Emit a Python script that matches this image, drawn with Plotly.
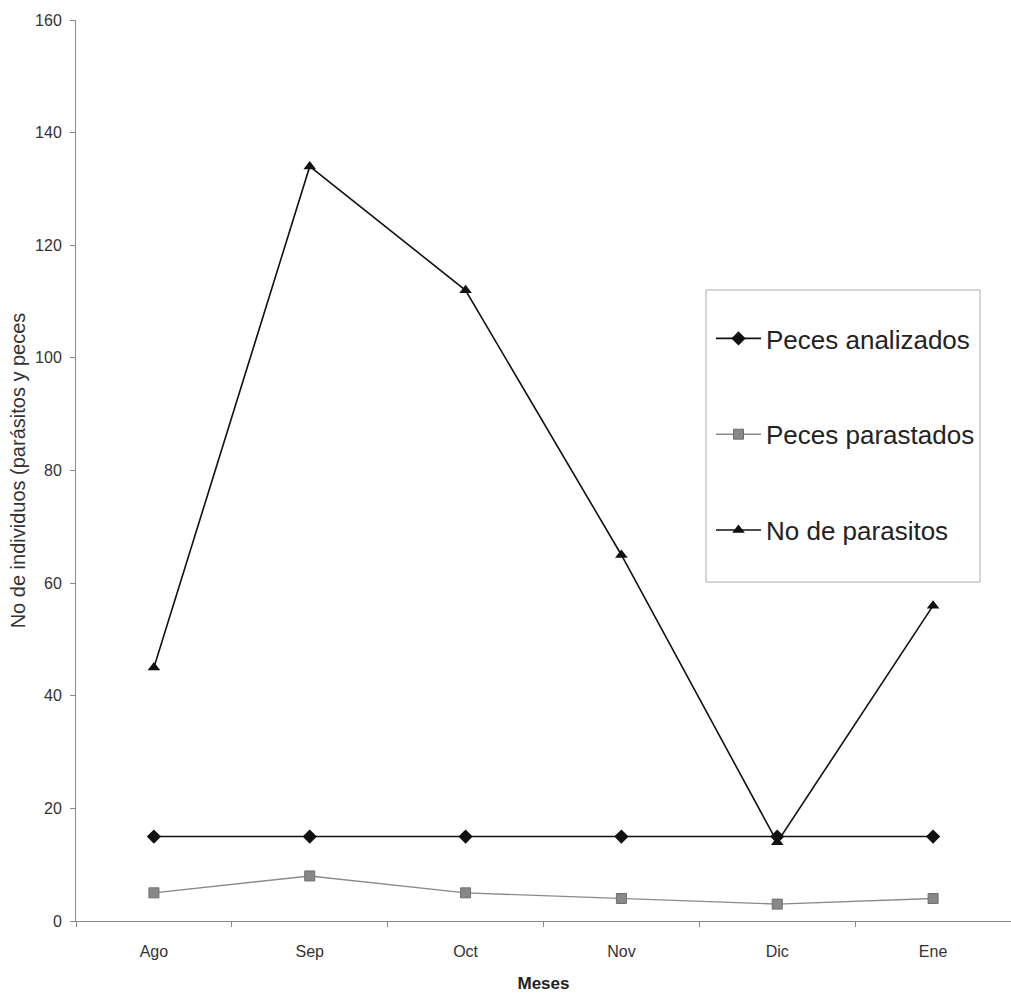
import plotly.graph_objects as go

meses = ["Ago", "Sep", "Oct", "Nov", "Dic", "Ene"]
peces_analizados = [15, 15, 15, 15, 15, 15]
peces_parasitados = [5, 8, 5, 4, 3, 4]
no_parasitos = [45, 134, 112, 65, 14, 56]

FONT = "Arial, Liberation Sans, sans-serif"

fig = go.Figure()
fig.add_trace(go.Scatter(
    x=meses, y=peces_analizados, name="Peces analizados", mode="lines+markers",
    line=dict(color="#111111", width=1.6),
    marker=dict(symbol="diamond", size=11, color="#111111"),
    legendgroup="a"))
fig.add_trace(go.Scatter(
    x=meses, y=peces_parasitados, name="Peces parastados", mode="lines+markers",
    line=dict(color="#8a8a8a", width=1.4),
    marker=dict(symbol="square", size=10, color="#888888",
                line=dict(color="#6e6e6e", width=1)),
    legendgroup="b"))
fig.add_trace(go.Scatter(
    x=meses, y=no_parasitos, name="No de parasitos", mode="lines+markers",
    line=dict(color="#111111", width=1.6),
    marker=dict(symbol="triangle-up", size=11, color="#111111"),
    legendgroup="c"))

# legend frame (pixel geometry converted to paper coords)
fig.add_shape(type="rect", xref="paper", yref="paper",
              x0=(706 - 76) / 935, x1=(980 - 76) / 935,
              y0=(921 - 582) / 901, y1=(921 - 290) / 901,
              line=dict(color="#aaaaaa", width=1), fillcolor="rgba(0,0,0,0)",
              layer="below")

fig.update_layout(
    width=1011, height=993,
    margin=dict(l=76, r=0, t=20, b=72),
    paper_bgcolor="white", plot_bgcolor="white",
    font=dict(family=FONT, color="#333333", size=16),
    showlegend=True,
    legend=dict(
        x=(711 - 76) / 935, y=(921 - 315) / 901, xanchor="left", yanchor="top",
        borderwidth=0, bgcolor="rgba(0,0,0,0)",
        font=dict(size=26, color="#222222", family=FONT),
        tracegroupgap=59, itemwidth=45,
    ),
)
fig.update_xaxes(
    type="category", range=[-0.5, 5.5],
    showline=True, linecolor="#888888", linewidth=1,
    ticks="outside", tickson="boundaries", ticklen=5, tickcolor="#888888",
    showgrid=False, zeroline=False,
    tickfont=dict(size=16, color="#333333"), ticklabelstandoff=16,
    title=dict(text="<b>Meses</b>", font=dict(size=17, color="#222222"), standoff=17),
)
fig.update_yaxes(
    range=[0, 160], tickvals=[0, 20, 40, 60, 80, 100, 120, 140, 160],
    showline=True, linecolor="#888888", linewidth=1,
    ticks="outside", ticklen=5, tickcolor="#888888",
    showgrid=False, zeroline=False,
    tickfont=dict(size=16, color="#333333"), ticklabelstandoff=5,
    title=dict(text="No de individuos (parásitos y peces", font=dict(size=20, color="#333333"), standoff=4),
)

fig.write_html("out.html")
